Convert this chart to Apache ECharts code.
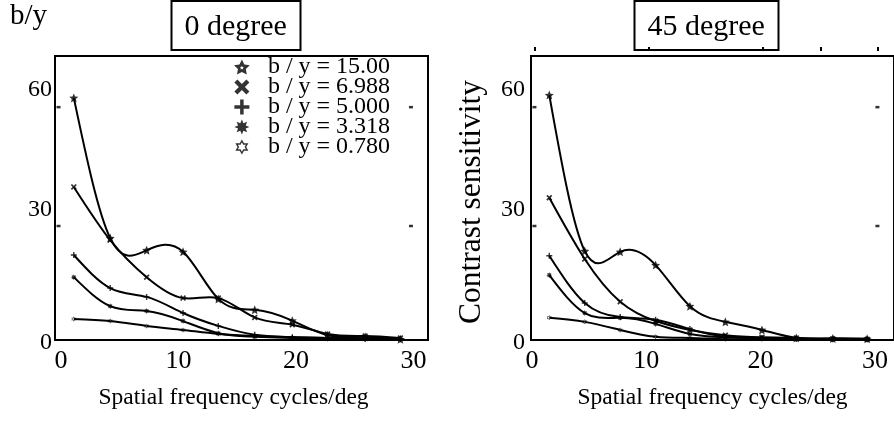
<!DOCTYPE html>
<html><head><meta charset="utf-8">
<script src="https://cdn.jsdelivr.net/npm/echarts@6/dist/echarts.min.js"></script>
<style>html,body{margin:0;padding:0;background:#fff}#c{width:894px;height:421px}</style>
</head><body><div id="c"></div>
<script>
// ---- data ----
const freqs = [1.3, 4.4, 7.5, 10.6, 13.6, 16.7, 19.9, 22.9, 26.1, 29.1];
const seriesNames = ['b / y = 15.00', 'b / y = 6.988', 'b / y = 5.000', 'b / y = 3.318', 'b / y = 0.780'];
// 0 degree panel
const deg0_by15 = [59.6, 24.8, 21.8, 21.4, 9.7, 7.0, 4.3, 0.7, 0.3, -0.3];
const deg0_by6988 = [37.5, 24.3, 15.1, 9.9, 9.9, 5.1, 3.3, 1.0, 0.5, 0.0];
const deg0_by5 = [20.6, 12.4, 10.2, 6.2, 3.0, 0.8, 0.2, 0.0, -0.2, -0.3];
const deg0_by3318 = [15.1, 7.9, 6.7, 4.2, 1.2, 0.3, 0.0, -0.2, -0.3, -0.3];
const deg0_by078 = [4.7, 4.2, 3.0, 2.0, 1.0, 0.5, 0.2, 0.0, -0.2, -0.3];
// 45 degree panel
const deg45_by15 = [60.3, 21.6, 21.4, 18.1, 7.9, 4.0, 2.0, 0.0, -0.1, -0.2];
const deg45_by6988 = [34.8, 19.6, 9.0, 4.2, 2.0, 0.7, 0.2, 0.0, -0.2, -0.3];
const deg45_by5 = [20.4, 8.7, 5.2, 4.5, 2.2, 0.3, 0.0, -0.2, -0.3, -0.3];
const deg45_by3318 = [15.6, 6.2, 5.0, 3.5, 1.0, 0.2, -0.1, -0.2, -0.3, -0.3];
const deg45_by078 = [5.0, 4.0, 2.0, 0.3, 0.0, -0.3, -0.3, -0.3, -0.3, -0.3];
const xTickLabels = [0, 10, 20, 30];
const yTickLabels = [0, 30, 60];
const topTicks45 = [0, 10, 20, 25, 30];
const innerMarks = [[0, 57.3], [30, 57.3], [0, 27.8], [30, 27.8]];
const panelTitles = ['0 degree', '45 degree'];

// ---- symbols ----
function starPts(n, ro, ri, rev) {
  const pts = [];
  for (let i = 0; i < 2 * n; i++) {
    const r = i % 2 === 0 ? ro : ri;
    const a = -Math.PI / 2 + i * Math.PI / n;
    pts.push([r * Math.cos(a), r * Math.sin(a)]);
  }
  if (rev) pts.reverse();
  return 'M' + pts.map(p => p[0].toFixed(2) + ',' + p[1].toFixed(2)).join(' L') + ' Z';
}
const symStarLegend = 'path://' + starPts(5, 10, 5, false) + ' ' + starPts(5, 2.6, 1.3, true);
const symStar = 'path://' + starPts(5, 10, 4.6, false);
const symX = 'path://M-5,-3 L-3,-5 L0,-2 L3,-5 L5,-3 L2,0 L5,3 L3,5 L0,2 L-3,5 L-5,3 L-2,0 Z';
const symPlus = 'path://M-1.4,-6 L1.4,-6 L1.4,-1.4 L6,-1.4 L6,1.4 L1.4,1.4 L1.4,6 L-1.4,6 L-1.4,1.4 L-6,1.4 L-6,-1.4 L-1.4,-1.4 Z';
const symAst = 'path://' + starPts(8, 10, 5.5, false);
const symHex = 'path://' + starPts(6, 10, 5.8, false) + ' ' + starPts(6, 6.2, 3.6, true);
const legendSymbols = [symStarLegend, symX, symPlus, symAst, symHex];
const markerSymbols = [symStar, symX, symPlus, symAst, symHex];
const symSizes = [9, 6, 6, 6, 5];

// natural cubic spline slopes (curve styling, drawn through the data points)
function splineSlopes(xs, ys) {
  const n = xs.length, h = [], M = new Array(n).fill(0);
  for (let i = 0; i < n - 1; i++) h.push(xs[i + 1] - xs[i]);
  const a = [], b = [], c = [], d = [];
  for (let i = 1; i < n - 1; i++) {
    a.push(h[i - 1]); b.push(2 * (h[i - 1] + h[i])); c.push(h[i]);
    d.push(6 * ((ys[i + 1] - ys[i]) / h[i] - (ys[i] - ys[i - 1]) / h[i - 1]));
  }
  const m = b.length;
  for (let i = 1; i < m; i++) { const w = a[i] / b[i - 1]; b[i] -= w * c[i - 1]; d[i] -= w * d[i - 1]; }
  const sol = new Array(m);
  for (let i = m - 1; i >= 0; i--) sol[i] = (d[i] - (i < m - 1 ? c[i] * sol[i + 1] : 0)) / b[i];
  for (let i = 0; i < m; i++) M[i + 1] = sol[i];
  const s = [];
  for (let i = 0; i < n - 1; i++) s.push((ys[i + 1] - ys[i]) / h[i] - h[i] * (2 * M[i] + M[i + 1]) / 6);
  s.push((ys[n - 1] - ys[n - 2]) / h[n - 2] + h[n - 2] * (M[n - 2] + 2 * M[n - 1]) / 6);
  return s;
}

const FONT = 'Liberation Serif';
const chart = echarts.init(document.getElementById('c'));

const panels = [
  [deg0_by15, deg0_by6988, deg0_by5, deg0_by3318, deg0_by078],
  [deg45_by15, deg45_by6988, deg45_by5, deg45_by3318, deg45_by078]
];

const series = [];
panels.forEach((arrs, gi) => {
  arrs.forEach((vals, si) => {
    const slopes = splineSlopes(freqs, vals);
    series.push({
      type: 'custom', xAxisIndex: gi, yAxisIndex: gi, silent: true, z: 2,
      data: freqs.map((x, k) => [x, vals[k]]),
      renderItem: function (params, api) {
        const i = params.dataIndex;
        if (i >= freqs.length - 1) return null;
        const x0 = freqs[i], x1 = freqs[i + 1], hh = x1 - x0;
        const p0 = api.coord([x0, vals[i]]);
        const p1 = api.coord([x1, vals[i + 1]]);
        const c0 = api.coord([x0 + hh / 3, vals[i] + slopes[i] * hh / 3]);
        const c1 = api.coord([x1 - hh / 3, vals[i + 1] - slopes[i + 1] * hh / 3]);
        return {
          type: 'bezierCurve',
          shape: { x1: p0[0], y1: p0[1], cpx1: c0[0], cpy1: c0[1], cpx2: c1[0], cpy2: c1[1], x2: p1[0], y2: p1[1] },
          style: { stroke: '#000', lineWidth: 2, fill: null }
        };
      }
    });
    series.push({
      type: 'scatter', name: seriesNames[si], xAxisIndex: gi, yAxisIndex: gi,
      data: freqs.map((x, k) => [x, vals[k]]),
      symbol: markerSymbols[si], symbolSize: symSizes[si],
      itemStyle: { color: '#000' }, emphasis: { disabled: true }, silent: true, z: 3
    });
  });
  series.push({
    type: 'scatter', xAxisIndex: gi, yAxisIndex: gi, data: innerMarks,
    symbol: 'rect', symbolSize: [4, 2.5], itemStyle: { color: '#000' }, silent: true, z: 2
  });
});

const grids = [
  { left: 55, top: 56, width: 373, height: 284 },
  { left: 531, top: 56, width: 373, height: 284 }
];

function xAx(gi) {
  return {
    type: 'value', gridIndex: gi, min: -0.3, max: 31.45,
    name: 'Spatial frequency cycles/deg', nameLocation: 'middle', nameGap: 46,
    nameTextStyle: { fontFamily: FONT, fontSize: 23.5, color: '#000', padding: gi === 0 ? [0, 16, 0, 0] : 0 },
    axisLine: { show: false }, axisTick: { show: false }, splitLine: { show: false },
    axisLabel: {
      customValues: xTickLabels, fontFamily: FONT, fontSize: 26, color: '#000', margin: 8,
      padding: gi === 0 ? [0, 0, 0, 5] : [0, 5, 0, 0]
    }
  };
}
function yAx(gi) {
  return {
    type: 'value', gridIndex: gi, min: -0.5, max: 70,
    name: gi === 1 ? 'Contrast sensitivity' : '', nameLocation: 'middle', nameGap: 43, nameRotate: 90,
    nameTextStyle: { fontFamily: FONT, fontSize: 31.5, color: '#000', padding: [0, 8, 0, 0] },
    axisLine: { show: false }, axisTick: { show: false }, splitLine: { show: false },
    axisLabel: {
      customValues: yTickLabels, fontFamily: FONT, fontSize: 24, color: '#000', margin: gi === 0 ? 3 : 6,
      formatter: v => (v === 0 ? '{dn|' + v + '}' : '{up|' + v + '}'),
      rich: {
        up: { fontFamily: FONT, fontSize: 24, color: '#000', padding: [0, 0, 14, 0] },
        dn: { fontFamily: FONT, fontSize: 24, color: '#000', padding: [9, 0, 0, 0] }
      }
    }
  };
}

const option = {
  animation: false,
  backgroundColor: '#fff',
  title: panelTitles.map((t, i) => ({
    text: t, left: i === 0 ? 171 : 634, top: 1,
    padding: [11, 13.5, 8, 13.5], borderWidth: 2, borderColor: '#000',
    textStyle: { fontFamily: FONT, fontSize: 30, fontWeight: 'normal', color: '#000', lineHeight: 30 }
  })),
  legend: {
    orient: 'vertical', left: 234, top: 55, padding: 0, itemGap: -4,
    itemWidth: 42, itemHeight: 15, symbolKeepAspect: true,
    data: seriesNames.map((n, i) => ({ name: n, icon: legendSymbols[i], itemStyle: { color: '#000' } })),
    textStyle: { fontFamily: FONT, fontSize: 24, color: '#000' },
    selectedMode: false
  },
  graphic: [{
    type: 'text', left: 10, top: 2,
    style: { text: 'b/y', font: '29px "Liberation Serif"', fill: '#000' }
  }],
  grid: grids.map(g => Object.assign({ show: true, borderColor: '#000', borderWidth: 2, backgroundColor: 'transparent' }, g)),
  xAxis: [xAx(0), xAx(1), {
    type: 'value', gridIndex: 1, position: 'top', min: -0.3, max: 31.45, offset: 5,
    axisLine: { show: false }, axisLabel: { show: false }, splitLine: { show: false },
    axisTick: { show: true, customValues: topTicks45, length: 4, lineStyle: { color: '#000', width: 2 } }
  }],
  yAxis: [yAx(0), yAx(1)],
  series: series
};
chart.setOption(option);
</script></body></html>
